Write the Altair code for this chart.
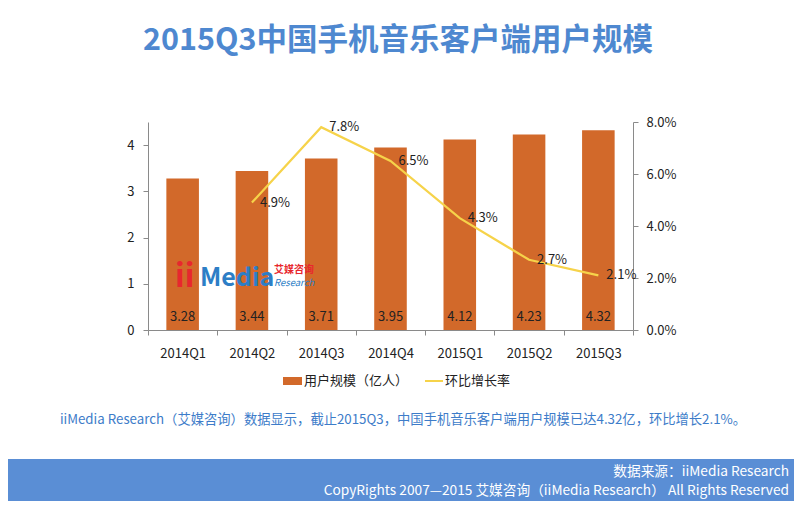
import altair as alt
import pandas as pd

quarters = ["2014Q1", "2014Q2", "2014Q3", "2014Q4", "2015Q1", "2015Q2", "2015Q3"]
users = [3.28, 3.44, 3.71, 3.95, 4.12, 4.23, 4.32]
growth = [None, 4.9, 7.8, 6.5, 4.3, 2.7, 2.1]
left_ticks = [0, 1, 2, 3, 4]
right_ticks = [0, 2, 4, 6, 8]

title_text = "2015Q3中国手机音乐客户端用户规模"
legend_bar = "用户规模（亿人）"
legend_line = "环比增长率"
note_text = "iiMedia Research（艾媒咨询）数据显示，截止2015Q3，中国手机音乐客户端用户规模已达4.32亿，环比增长2.1%。"
footer1 = "数据来源：iiMedia Research"
footer2 = "CopyRights 2007—2015 艾媒咨询（iiMedia Research） All Rights Reserved"

FONT = "Noto Sans CJK SC"
BAR_C = "#D2692A"
LINE_C = "#F6D34A"
BLUE = "#4E88D0"
FOOT_C = "#5A8ED5"

df = pd.DataFrame({"q": quarters, "users": users, "growth": growth})
one = pd.DataFrame({"a": [0]})

x = alt.X("q:N", sort=quarters, title=None,
          scale=alt.Scale(paddingInner=0, paddingOuter=0),
          axis=alt.Axis(labelAngle=0, tickBand="extent", tickSize=5, labelPadding=12,
                        labelFontSize=13, labelColor="#222222"))

bars = alt.Chart(df).mark_bar(color=BAR_C, width=alt.RelativeBandSize(0.47)).encode(
    x=x,
    y=alt.Y("users:Q", title=None, scale=alt.Scale(domain=[0, 4.5], nice=False),
            axis=alt.Axis(values=left_ticks, grid=False, tickSize=5, labelPadding=9,
                          labelFontSize=13, labelColor="#222222")),
)
bar_labels = alt.Chart(df).mark_text(dy=-13, fontSize=13, font=FONT, color="#222222").encode(
    x=x, y=alt.datum(0), text=alt.Text("users:Q", format=".2f")
)
bar_layer = alt.layer(bars, bar_labels)

line_base = alt.Chart(df).transform_filter("isValid(datum.growth)").transform_calculate(
    lab="format(datum.growth, '.1f') + '%'"
)
ry = alt.Y("growth:Q", title=None, scale=alt.Scale(domain=[0, 8], nice=False),
           axis=alt.Axis(orient="right", values=right_ticks, grid=False, tickSize=5,
                         labelPadding=8, labelFontSize=13, labelColor="#222222",
                         labelExpr="format(datum.value, '.1f') + '%'"))
line = line_base.mark_line(color=LINE_C, strokeWidth=2.2).encode(x=x, y=ry)
line_labels = line_base.mark_text(align="left", baseline="middle", dx=8, fontSize=13,
                                  font=FONT, color="#222222").encode(
    x=x, y=ry, text="lab:N")
line_layer = alt.layer(line, line_labels)

def txt(t, xv, yv, **kw):
    return alt.Chart(one).mark_text(text=t, font=FONT, **kw).encode(
        x=alt.value(xv), y=alt.value(yv))

title = txt(title_text, 250, -81, fontSize=30.5, fontWeight="bold", color=BLUE,
            align="center", baseline="middle")
leg_rect = alt.Chart(one).mark_rect(color=BAR_C).encode(
    x=alt.value(135), x2=alt.value(154), y=alt.value(255), y2=alt.value(263))
leg_t1 = txt(legend_bar, 156, 259, fontSize=13, color="#222222", align="left", baseline="middle")
leg_line = alt.Chart(one).mark_rule(color=LINE_C, strokeWidth=2).encode(
    x=alt.value(277), x2=alt.value(295), y=alt.value(259))
leg_t2 = txt(legend_line, 297, 259, fontSize=13, color="#222222", align="left", baseline="middle")
note = txt(note_text, 255, 298, fontSize=13.3, color="#3D7CC9", align="center", baseline="middle")
foot_rect = alt.Chart(one).mark_rect(color=FOOT_C).encode(
    x=alt.value(-140), x2=alt.value(646), y=alt.value(337), y2=alt.value(379))
f1 = txt(footer1, 641, 350, fontSize=13.7, color="white", align="right", baseline="middle")
f2 = txt(footer2, 641, 369, fontSize=13.7, color="white", align="right", baseline="middle")

logo_ii = txt("ii", 27, 165, fontSize=32, fontWeight="bold", color="#E8272E",
              align="left", baseline="alphabetic")
logo_media = txt("Media", 52, 164, fontSize=25, fontWeight="bold", color="#2D7EC6",
                 align="left", baseline="alphabetic")
logo_cn = txt("艾媒咨询", 126, 148, fontSize=10, fontWeight="bold", color="#E8272E",
              align="left", baseline="middle")
logo_en = txt("Research", 126, 161, fontSize=9.5, fontStyle="italic", color="#2D7EC6",
              align="left", baseline="middle")

chart = alt.layer(
    bar_layer, line_layer, title, leg_rect, leg_t1, leg_line, leg_t2, note,
    foot_rect, f1, f2, logo_ii, logo_media, logo_cn, logo_en
).resolve_scale(y="independent").properties(
    width=485, height=208,
    padding={"left": 140, "top": 114, "right": 161, "bottom": 171},
    autosize=alt.AutoSizeParams(type="none"),
    background="white",
).configure_view(stroke=None).configure_axis(
    domainColor="#8A8A8A", tickColor="#8A8A8A", labelFont=FONT
).configure_text(font=FONT)

chart.save("out.html", embed_options={"renderer": "svg", "actions": False})
